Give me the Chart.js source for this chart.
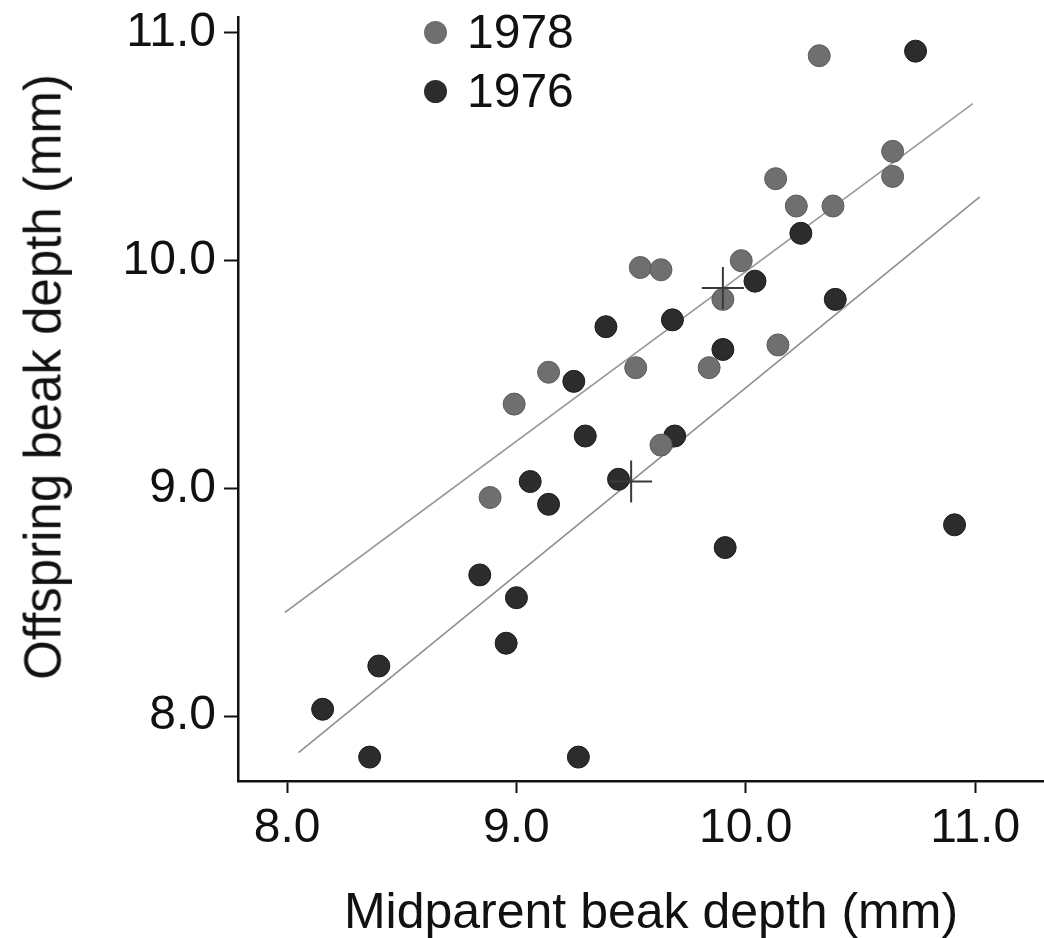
<!DOCTYPE html>
<html>
<head>
<meta charset="utf-8">
<script src="https://cdn.jsdelivr.net/npm/chart.js@4.4.1/dist/chart.umd.min.js"></script>
<style>
    html, body { margin: 0; padding: 0; background: #fff; }
    #wrap { position: relative; width: 1044px; height: 938px; font-family: "Liberation Sans", Arial, sans-serif; color: #111; }
    #legend { position: absolute; left: 424px; top: 8px; font-size: 48px; }
    #legend .row { display: flex; align-items: center; height: 48px; line-height: 48px; margin-bottom: 11px; }
    #legend .dot { width: 23px; height: 23px; border-radius: 50%; margin-right: 20px; }
    .axis-title { position: absolute; white-space: nowrap; font-size: 50px; line-height: 50px; }
    #xtitle { left: 651px; top: 886px; transform: translateX(-50%); }
    #ytitle { left: 43px; top: 377px; font-size: 51px; line-height: 51px; transform: translate(-50%, -50%) rotate(-90deg); }
</style>
</head>
<body>
<div id="wrap">
    <canvas id="chart" width="1044" height="938"></canvas>
    <div id="legend"></div>
    <div class="axis-title" id="xtitle"></div>
    <div class="axis-title" id="ytitle"></div>
</div>
<script>
// ---- data ----
const seriesLabels = ['1978', '1976'];
const seriesColors = ['#6f6f6f', '#2c2c2c'];
const xTitle = 'Midparent beak depth (mm)';
const yTitle = 'Offspring beak depth (mm)';

const midparent1978 = [10.32, 10.64, 10.64, 10.13, 10.22, 10.38, 9.54, 9.63, 9.98, 9.90, 9.14, 8.99, 9.52, 8.885, 9.84, 10.14, 9.63];
const offspring1978 = [10.90, 10.48, 10.37, 10.36, 10.24, 10.24, 9.97, 9.96, 10.00, 9.83, 9.51, 9.37, 9.53, 8.96, 9.53, 9.63, 9.19];

const midparent1976 = [10.74, 10.24, 10.04, 10.39, 9.39, 9.25, 9.68, 9.90, 9.30, 9.69, 9.06, 9.14, 9.445, 9.91, 10.91, 8.84, 9.00, 8.955, 8.40, 8.155, 8.36, 9.27];
const offspring1976 = [10.92, 10.12, 9.91, 9.83, 9.71, 9.47, 9.74, 9.61, 9.23, 9.23, 9.03, 8.93, 9.04, 8.74, 8.84, 8.62, 8.52, 8.32, 8.22, 8.03, 7.82, 7.82];

// regression line end points
const fitX1978 = [7.99, 10.99];
const fitY1978 = [8.455, 10.69];
const fitX1976 = [8.05, 11.02];
const fitY1976 = [7.84, 10.28];

// means (+ markers), 1978 then 1976
const meanX = [9.90, 9.50];
const meanY = [9.88, 9.03];

const xTicks = [8, 9, 10, 11];
const yTicks = [8, 9, 10, 11];

const FONT = '"Liberation Sans", Arial, Helvetica, sans-serif';

function toPoints(xs, ys) {
    return xs.map((x, i) => ({ x: x, y: ys[i] }));
}

function fixTicks(values) {
    return function(scale) {
        scale.ticks = values.map(v => ({ value: v }));
    };
}

const ctx = document.getElementById('chart').getContext('2d');
const chart = new Chart(ctx, {
    type: 'scatter',
    data: {
        datasets: [
            {
                label: 'means',
                data: toPoints(meanX, meanY),
                pointStyle: 'cross',
                radius: 21,
                borderColor: '#3a3a3a',
                borderWidth: 2,
                order: 0
            },
            {
                label: seriesLabels[0],
                data: toPoints(midparent1978, offspring1978),
                backgroundColor: seriesColors[0],
                borderColor: '#5c5c5c',
                borderWidth: 1,
                radius: 11,
                order: 1
            },
            {
                label: seriesLabels[1],
                data: toPoints(midparent1976, offspring1976),
                backgroundColor: seriesColors[1],
                borderColor: '#1c1c1c',
                borderWidth: 1,
                radius: 11,
                order: 1
            },
            {
                type: 'line',
                label: 'fit 1978',
                data: toPoints(fitX1978, fitY1978),
                borderColor: '#9a9a9a',
                borderWidth: 1.6,
                pointRadius: 0,
                order: 2
            },
            {
                type: 'line',
                label: 'fit 1976',
                data: toPoints(fitX1976, fitY1976),
                borderColor: '#8e8e8e',
                borderWidth: 1.6,
                pointRadius: 0,
                order: 2
            }
        ]
    },
    options: {
        responsive: false,
        animation: false,
        layout: { autoPadding: false, padding: { top: 17, left: 0, right: 0, bottom: 0 } },
        plugins: {
            legend: { display: false },
            tooltip: { enabled: false }
        },
        scales: {
            x: {
                type: 'linear',
                min: 7.786, max: 11.30,
                afterBuildTicks: fixTicks(xTicks),
                afterFit: (scale) => { scale.height = 157; scale.paddingLeft = 0; scale.paddingRight = 0; },
                grid: { drawOnChartArea: false, drawTicks: true, tickLength: 12, tickColor: '#111', tickWidth: 2 },
                border: { display: true, color: '#111', width: 2.5 },
                ticks: { color: '#111', padding: 7, font: { family: FONT, size: 48 }, callback: (v) => Number(v).toFixed(1) },
                title: { display: false }
            },
            y: {
                type: 'linear',
                min: 7.715, max: 11.07,
                afterBuildTicks: fixTicks(yTicks),
                afterFit: (scale) => { scale.width = 238; scale.paddingTop = 0; scale.paddingBottom = 0; },
                grid: { drawOnChartArea: false, drawTicks: true, tickLength: 14, tickColor: '#111', tickWidth: 2 },
                border: { display: true, color: '#111', width: 2.5 },
                ticks: { color: '#111', padding: 8, font: { family: FONT, size: 48 }, callback: (v) => Number(v).toFixed(1) },
                title: { display: false }
            }
        }
    }
});

// axis titles sit as text over the space the scales leave for them
document.getElementById('xtitle').textContent = xTitle;
document.getElementById('ytitle').textContent = yTitle;

// legend in the top of the plot area, built from the two year series
const legendEl = document.getElementById('legend');
seriesLabels.forEach((label, i) => {
    const row = document.createElement('div');
    row.className = 'row';
    const dot = document.createElement('span');
    dot.className = 'dot';
    dot.style.background = seriesColors[i];
    const txt = document.createElement('span');
    txt.textContent = label;
    row.appendChild(dot);
    row.appendChild(txt);
    legendEl.appendChild(row);
});
</script>
</body>
</html>
